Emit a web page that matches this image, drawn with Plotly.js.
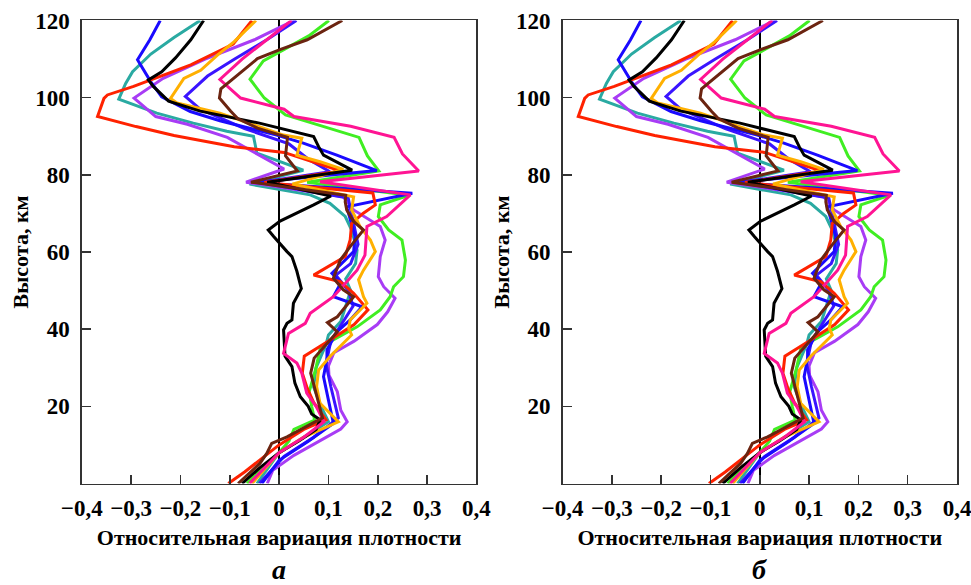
<!DOCTYPE html>
<html><head><meta charset="utf-8">
<script src="https://cdn.plot.ly/plotly-3.0.1.min.js"></script>
<style>html,body{margin:0;padding:0;background:#fff}#chart{width:971px;height:585px}</style>
</head><body><div id="chart"></div>
<script>
// ---- data (height in km, relative density variation) ----
const xTickVals = [-0.4,-0.3,-0.2,-0.1,0,0.1,0.2,0.3,0.4];
const xTickText = ["\u22120,4","\u22120,3","\u22120,2","\u22120,1","0","0,1","0,2","0,3","0,4"];
const yTickVals = [20,40,60,80,100,120];
const yTickText = ["20","40","60","80","100","120"];
const panelLabels = ["а","б"];

const tealY = [0,8,12,16,20,25,30,36,38.5,42,46,50,53,57,60.5,65.7,69.2,72.6,74.8,76.1,77.6,81.2,85.6,90,91.3,93.4,96,99.6,103.7,106.7,111.3,115.6,120];
const tealX = [-0.045,0.0,0.05,0.1,0.085,0.07,0.075,0.095,0.1,0.125,0.135,0.145,0.135,0.155,0.158,0.147,0.134,0.103,0.063,0.002,-0.06,0.049,-0.045,-0.052,-0.106,-0.174,-0.248,-0.325,-0.311,-0.297,-0.26,-0.213,-0.16];

const purpleY = [0,3.4,7.3,11.2,14.1,16,19,23.8,28.1,30.5,33.9,36.9,41.2,44.5,48,51,53.6,58.8,63.1,66.6,70.9,74.3,78.1,81.5,85.8,89.7,93.1,95.1,99.9,105,110,115,120];
const purpleX = [-0.024,-0.013,0.03,0.084,0.125,0.138,0.125,0.118,0.101,0.1,0.111,0.152,0.199,0.22,0.235,0.212,0.201,0.205,0.215,0.205,0.151,0.13,-0.067,0.01,-0.051,-0.105,-0.186,-0.25,-0.294,-0.235,-0.15,-0.05,0.03];

const greenY = [0,4,8,11,14,16.4,20,23.8,29.6,35.4,40.6,45,48.4,51,53.6,57.9,63.1,65.7,69.2,72.2,74.7,78.1,81,84.9,89.7,95.5,99.9,104.8,109.5,113.3,116,120];
const greenX = [-0.065,-0.035,0.0,0.02,0.03,0.072,0.066,0.061,0.074,0.084,0.158,0.205,0.225,0.232,0.252,0.256,0.249,0.222,0.201,0.205,0.263,0.057,0.202,0.179,0.162,0.013,-0.03,-0.059,-0.032,0.022,0.06,0.101];

const blue2Y = [0,7,12,17,25,31,37,42,46,50,54,57,62,68,74,78,80.8,84,88,92,97,100.3,105.6,110,115,120];
const blue2X = [-0.04,0.01,0.07,0.12,0.105,0.095,0.105,0.13,0.15,0.14,0.115,0.145,0.16,0.15,0.14,-0.04,0.103,0.06,0.02,-0.07,-0.16,-0.19,-0.145,-0.09,-0.025,0.035];

const blue1Y = [0,6,11,15.6,21.6,27.7,32.4,34.6,39.3,42.4,45.8,48.4,52,54.5,60.1,64,71.7,75.2,78,81.1,85.1,88.2,90.3,94,96.4,100.2,104.1,107.6,109.8,115,120];
const blue1X = [-0.035,0.0,0.06,0.11,0.1,0.09,0.097,0.097,0.117,0.144,0.168,0.11,0.125,0.107,0.151,0.154,0.137,0.27,-0.05,0.198,0.117,0.049,-0.005,-0.12,-0.18,-0.238,-0.26,-0.277,-0.287,-0.262,-0.241];

const redY = [0,3,6,10,14,16.5,21,24.7,28.6,33,37.3,41.2,45,49.3,52.3,54,58.8,63.1,67.4,70,72.2,75.3,78,81,85.8,87.3,88.9,90.2,92.5,95.1,99.8,100.7,102.9,108.5,113.9,120];
const redX = [-0.103,-0.07,-0.04,0.0,0.05,0.095,0.07,0.057,0.047,0.051,0.105,0.152,0.18,0.151,0.124,0.07,0.134,0.144,0.147,0.17,0.195,0.19,-0.03,0.125,0.01,-0.091,-0.159,-0.213,-0.29,-0.368,-0.355,-0.348,-0.295,-0.179,-0.093,-0.055];

const orangeY = [0,8,12,16,20.8,25.1,29.4,32.9,38.5,40.2,42.4,46.7,48.4,52.8,55.3,60.1,63.1,66.6,70.9,74.3,77.6,81.4,83.4,85.1,89.5,90.3,96,98.6,99.8,105,107.1,111,114.5,120];
const orangeX = [-0.055,0.0,0.05,0.12,0.083,0.076,0.08,0.103,0.147,0.141,0.144,0.178,0.171,0.161,0.171,0.195,0.185,0.164,0.147,0.151,0.027,0.13,0.083,0.036,0.046,0.009,-0.12,-0.207,-0.22,-0.193,-0.159,-0.125,-0.091,-0.047];

const blackY = [0,4,8,11,14,16.5,18,20,22.5,26,30.3,33,39.8,41.5,42.4,46.7,50.5,55,58.8,60.1,64,65.7,68,70,72.2,74.5,78.1,81.2,85.1,87.3,89.9,93.4,96.5,99.1,100.3,102.9,104.6,106.7,110.3,115,120];
const blackX = [-0.075,-0.04,0.0,0.04,0.075,0.083,0.066,0.059,0.043,0.032,0.026,0.012,0.009,0.016,0.026,0.029,0.045,0.036,0.026,0.016,-0.011,-0.022,0.002,0.036,0.07,0.105,-0.024,0.148,0.09,0.08,0.07,-0.04,-0.16,-0.224,-0.234,-0.255,-0.265,-0.238,-0.21,-0.179,-0.153];

const pinkY = [0,4,8,12,16,20,23.4,28.6,31.2,33.7,38.9,41.5,44.1,48.4,55.3,59.2,63,66.6,69.2,74.8,78.2,81,85.4,89.7,92.6,95.1,97,99.9,104.7,110,115,120];
const pinkX = [-0.06,-0.03,0.0,0.05,0.091,0.075,0.056,0.046,0.036,0.009,0.019,0.053,0.063,0.11,0.158,0.174,0.176,0.178,0.218,0.266,0.083,0.283,0.25,0.233,0.145,0.03,0.01,-0.078,-0.12,-0.075,-0.025,0.025];

const brownY = [0,5.2,7.8,10.4,12.1,15.2,17,23.8,28.6,32.5,39.3,41.7,43.2,48.4,50.2,53.2,57.9,61.4,65.7,67.9,70.9,73,74.7,78.1,81,84.9,89.7,92.1,94.6,96.5,99.9,102.3,105.2,110.1,112.5,115,120];
const brownX = [-0.083,-0.039,-0.025,-0.015,0.016,0.063,0.088,0.074,0.064,0.071,0.118,0.098,0.118,0.151,0.13,0.11,0.124,0.144,0.171,0.151,0.137,0.134,0.135,-0.057,0.037,0.013,0.017,-0.044,-0.084,-0.098,-0.121,-0.118,-0.091,-0.044,0.003,0.057,0.128];

const series = [
  {x: tealX, y: tealY, color: "#2aaaa2"},
  {x: purpleX, y: purpleY, color: "#a83cf5"},
  {x: greenX, y: greenY, color: "#40ee22"},
  {x: blue2X, y: blue2Y, color: "#3a14ff"},
  {x: blue1X, y: blue1Y, color: "#1a0aff"},
  {x: redX, y: redY, color: "#ff2200"},
  {x: orangeX, y: orangeY, color: "#ffb000"},
  {x: blackX, y: blackY, color: "#000000"},
  {x: pinkX, y: pinkY, color: "#ff1493"},
  {x: brownX, y: brownY, color: "#6b2410"}
];

const traces = [];
["x","x2"].forEach((xa, i) => {
  const ya = i === 0 ? "y" : "y2";
  series.forEach(s => {
    traces.push({x: s.x, y: s.y, xaxis: xa, yaxis: ya, type: "scatter", mode: "lines",
      line: {color: s.color, width: 3}, hoverinfo: "skip", showlegend: false});
  });
});

const SERIF = "Liberation Serif";
function tickFont() { return {family: SERIF, size: 23, color: "#000", weight: 700}; }
function titleFont() { return {family: SERIF, size: 22, color: "#000", weight: 700}; }

function xAxis(domain, anchor) {
  return {domain: domain, anchor: anchor, range: [-0.4, 0.4], tickvals: xTickVals, ticktext: xTickText,
    ticks: "inside", ticklen: 9, tickwidth: 1.5, tickcolor: "#333", showline: true, linecolor: "#333",
    linewidth: 1.5, mirror: true, showgrid: false, zeroline: true, zerolinecolor: "#000", zerolinewidth: 1.5,
    tickfont: tickFont(), ticklabelstandoff: 3, ticklabeloverflow: "allow",
    title: {text: "Относительная вариация плотности", font: titleFont(), standoff: 10}};
}
function yAxis(anchor) {
  return {domain: [0.1735, 0.965], anchor: anchor, range: [0, 120], tickvals: yTickVals, ticktext: yTickText,
    ticks: "inside", ticklen: 9, tickwidth: 1.5, tickcolor: "#333", showline: true, linecolor: "#333",
    linewidth: 1.5, mirror: true, showgrid: false, zeroline: false, tickfont: tickFont(), ticklabelstandoff: 6,
    ticklabeloverflow: "allow",
    title: {text: "Высота, км", font: titleFont(), standoff: 0}};
}

const layout = {
  width: 971, height: 585, margin: {l: 0, r: 0, t: 0, b: 0},
  paper_bgcolor: "#fff", plot_bgcolor: "#fff", showlegend: false,
  xaxis: xAxis([0.0842, 0.4907], "y"),
  yaxis: yAxis("x"),
  xaxis2: xAxis([0.5793, 0.9856], "y2"),
  yaxis2: yAxis("x2"),
  annotations: [
    {text: panelLabels[0], xref: "paper", yref: "paper", x: 0.2873, y: 0.026, xanchor: "center", yanchor: "middle", showarrow: false,
     font: {family: SERIF, size: 28, style: "italic", weight: 700, color: "#000"}},
    {text: panelLabels[1], xref: "paper", yref: "paper", x: 0.7822, y: 0.026, xanchor: "center", yanchor: "middle", showarrow: false,
     font: {family: SERIF, size: 28, style: "italic", weight: 700, color: "#000"}}
  ]
};

Plotly.newPlot("chart", traces, layout, {staticPlot: true, displayModeBar: false});
</script></body></html>
